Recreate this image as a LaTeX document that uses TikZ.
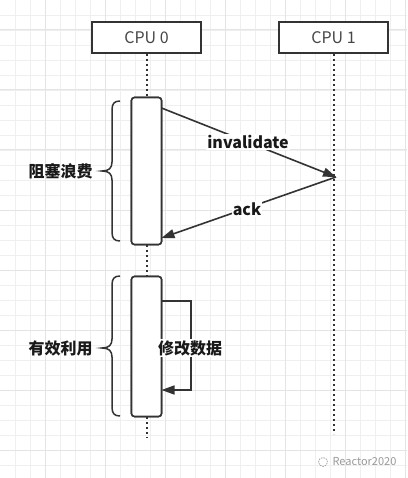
\documentclass[tikz,border=0pt]{standalone}
\usepackage{fontspec}
\setmainfont{Noto Sans CJK SC}
\usetikzlibrary{arrows.meta}
\definecolor{ink}{HTML}{333333}
\definecolor{gridminor}{HTML}{EFEFEF}
\definecolor{gridmajor}{HTML}{E4E4E4}
\tikzset{
  cpubox/.style={draw=ink, line width=2pt, fill=white, minimum width=109pt, minimum height=31pt, inner sep=0pt, font=\fontsize{16}{19}\selectfont, text=ink!90},
  actbox/.style={draw=ink, line width=1.6pt, fill=white, rounded corners=3pt, minimum width=30pt, inner sep=0pt},
  lifeline/.style={draw=ink, line width=2pt, dash pattern=on 1.6pt off 3.4pt},
  msg/.style={draw=ink, line width=1.6pt, -{Triangle[length=13pt,width=9pt]}},
  lbl/.style={fill=white, inner sep=1pt, font=\fontsize{16}{19}\selectfont\bfseries, text=black!90},
  bracestyle/.style={draw=ink, line width=1.5pt},
}
\begin{document}
\begin{tikzpicture}[x=1pt,y=-1pt]
\useasboundingbox (0,0) rectangle (407,478);
\fill[white] (0,0) rectangle (407,478);
% grid
\foreach \i in {15,30,...,405} \draw[gridminor, line width=0.8pt] (\i,0) -- (\i,478);
\foreach \j in {15,30,...,475} \draw[gridminor, line width=0.8pt] (0,\j) -- (407,\j);
\foreach \i in {45,105,...,405} \draw[gridmajor, line width=1pt] (\i,0) -- (\i,478);
\foreach \j in {30,90,...,475} \draw[gridmajor, line width=1pt] (0,\j) -- (407,\j);
% lifelines
\coordinate (l0end) at (146.5,438);
\coordinate (l1end) at (333.5,434);
\node[cpubox] (cpu0) at (146.5,37.5) {CPU 0};
\node[cpubox] (cpu1) at (333.5,37.5) {CPU 1};
\path[lifeline] (cpu1.south) -- (l1end);
\node[actbox, minimum height=147pt] (act1) at (146.5,171) {};
\node[actbox, minimum height=140pt] (act2) at (146.5,346.5) {};
\path[lifeline] (cpu0.south) -- (act1.north);
\path[lifeline] (act1.south) -- (act2.north);
\path[lifeline] (act2.south) -- (l0end);
\node[actbox, minimum height=147pt] at (146.5,171) {};
\node[actbox, minimum height=140pt] at (146.5,346.5) {};
% messages
\coordinate (inv0) at (161.5,108);
\coordinate (hit) at (336,177);
\coordinate (ack0) at (161.5,238);
\draw[msg] (inv0) -- (hit);
\draw[msg] (hit) -- (ack0);
\node[lbl] (invlbl) at (248,142) {invalidate};
\node[lbl] (acklbl) at (247,209) {ack};
% self message
\coordinate (s0) at (161.5,301);
\coordinate (s1) at (191,301);
\coordinate (s2) at (191,390);
\coordinate (s3) at (161.5,390);
\draw[msg] (s0) -- (s1) -- (s2) -- (s3);
\node[lbl] (modlbl) at (190,348) {修改数据};
% braces
\draw[bracestyle] (120,101) .. controls (114,101) and (112,104) .. (112,110) -- (112,162)
  .. controls (112,168) and (109,171) .. (102,171) .. controls (109,171) and (112,174) .. (112,180)
  -- (112,232) .. controls (112,238) and (114,241) .. (120,241);
\draw[bracestyle] (120,276) .. controls (114,276) and (112,279) .. (112,285) -- (112,339)
  .. controls (112,345) and (109,348) .. (102,348) .. controls (109,348) and (112,351) .. (112,357)
  -- (112,407) .. controls (112,413) and (114,416) .. (120,416);
\node[lbl, fill=none] (block) at (60.5,171) {阻塞浪费};
\node[lbl, fill=none] (use) at (60.5,348) {有效利用};
% watermark
\draw[gray!70, line width=0.8pt, dash pattern=on 1.5pt off 1pt] (323,462) circle (4.5pt);
\node[text=gray!80, font=\fontsize{11}{13}\selectfont, inner sep=0pt] (wm) at (364.5,462) {Reactor2020};
\end{tikzpicture}
\end{document}
